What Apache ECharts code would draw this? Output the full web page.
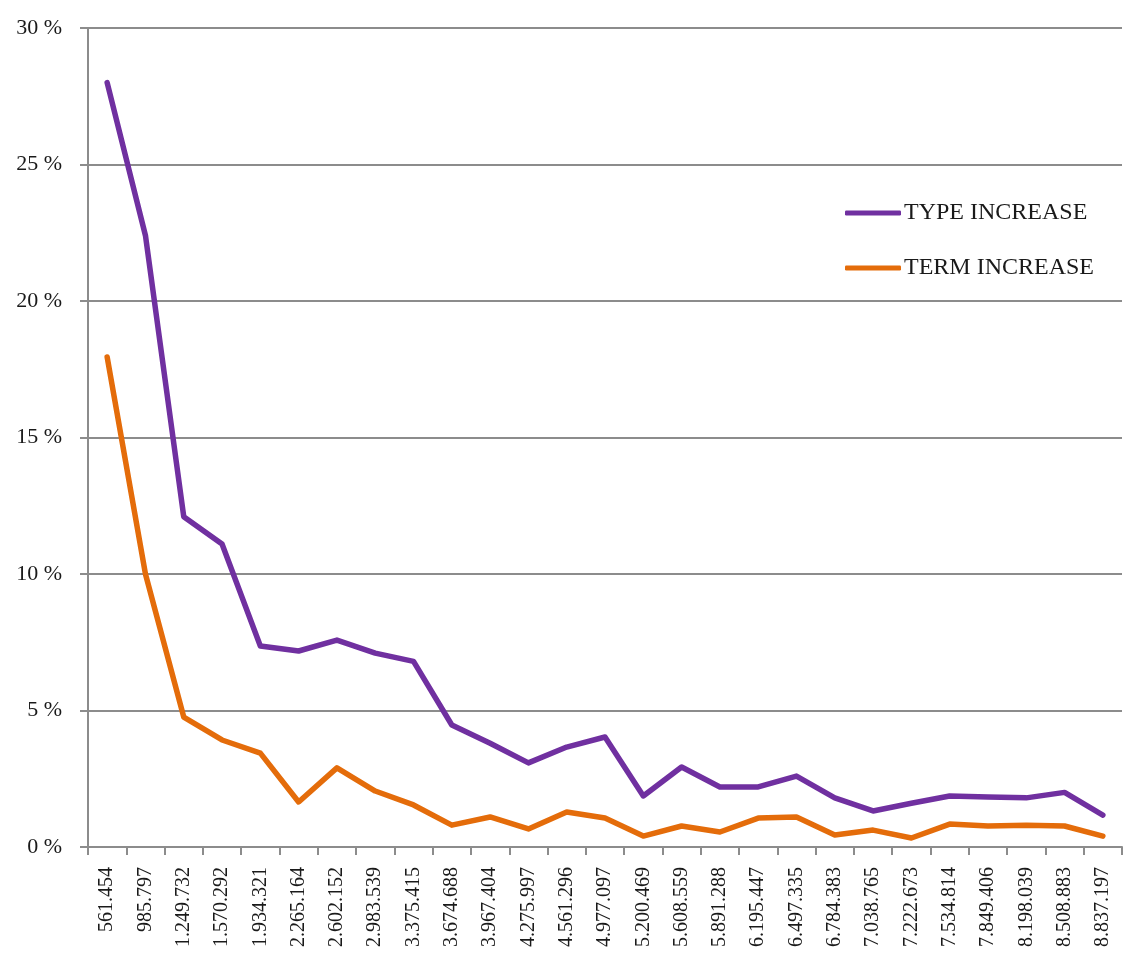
<!DOCTYPE html>
<html>
<head>
<meta charset="utf-8">
<script src="https://cdn.jsdelivr.net/npm/echarts@6/dist/echarts.min.js"></script>
<style>
html, body { margin: 0; padding: 0; background: #fff; }
#chart { width: 1126px; height: 965px; }
</style>
</head>
<body>
<div id="chart"></div>
<script>
// categories (x axis)
var categories = ['561.454', '985.797', '1.249.732', '1.570.292', '1.934.321', '2.265.164', '2.602.152',
    '2.983.539', '3.375.415', '3.674.688', '3.967.404', '4.275.997', '4.561.296', '4.977.097',
    '5.200.469', '5.608.559', '5.891.288', '6.195.447', '6.497.335', '6.784.383', '7.038.765',
    '7.222.673', '7.534.814', '7.849.406', '8.198.039', '8.508.883', '8.837.197'];
// percentages
var typeIncrease = [28.0, 22.4, 12.1, 11.1, 7.36, 7.18, 7.58, 7.1, 6.8, 4.47, 3.8, 3.08, 3.66, 4.03,
    1.87, 2.93, 2.2, 2.2, 2.6, 1.8, 1.32, 1.6, 1.87, 1.83, 1.8, 2.0, 1.17];
var termIncrease = [17.95, 10.0, 4.76, 3.92, 3.44, 1.65, 2.9, 2.05, 1.54, 0.8, 1.1, 0.66, 1.28, 1.06,
    0.4, 0.77, 0.55, 1.06, 1.1, 0.44, 0.62, 0.33, 0.84, 0.77, 0.8, 0.77, 0.4];
var seriesNames = ['TYPE INCREASE', 'TERM INCREASE'];

var myChart = echarts.init(document.getElementById('chart'));
var font = '"Liberation Serif", "DejaVu Serif", serif';
var option = {
    animation: false,
    textStyle: { fontFamily: font },
    legend: {
        orient: 'vertical',
        left: 840,
        top: 196,
        itemGap: 31,
        itemWidth: 56,
        itemHeight: 5,
        icon: 'roundRect',
        textStyle: { fontFamily: font, fontSize: 24, color: '#1a1a1a', padding: [0, 0, 0, -2] },
        data: seriesNames
    },
    grid: { left: 88, top: 28, right: 4, bottom: 118, containLabel: false },
    xAxis: {
        type: 'category',
        data: categories,
        boundaryGap: true,
        axisLine: { lineStyle: { color: '#8c8c8c', width: 2 } },
        axisTick: { show: true, length: 8, lineStyle: { color: '#8c8c8c', width: 2 } },
        axisLabel: { rotate: 90, interval: 0, margin: 20, fontFamily: font, fontSize: 20, color: '#1a1a1a' }
    },
    yAxis: {
        type: 'value',
        min: 0,
        max: 30,
        interval: 5,
        axisLine: { show: true, lineStyle: { color: '#8c8c8c', width: 2 } },
        axisTick: { show: true, length: 8, lineStyle: { color: '#8c8c8c', width: 2 } },
        axisLabel: { formatter: '{value} %', margin: 26, fontFamily: font, fontSize: 22, color: '#1a1a1a' },
        splitLine: { lineStyle: { color: '#8c8c8c', width: 2 } }
    },
    series: [
        {
            name: seriesNames[0],
            type: 'line',
            data: typeIncrease,
            symbol: 'none',
            color: '#7030A0',
            lineStyle: { width: 5.5, color: '#7030A0', cap: 'round', join: 'round' }
        },
        {
            name: seriesNames[1],
            type: 'line',
            data: termIncrease,
            symbol: 'none',
            color: '#E46C0A',
            lineStyle: { width: 5.5, color: '#E46C0A', cap: 'round', join: 'round' }
        }
    ]
};
myChart.setOption(option);
</script>
</body>
</html>
